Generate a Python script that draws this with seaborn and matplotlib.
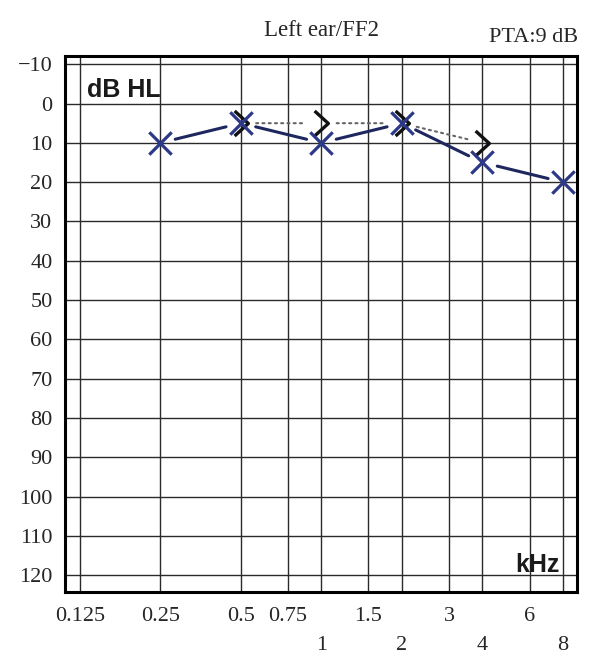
import matplotlib
matplotlib.use("Agg")
import matplotlib.pyplot as plt
import seaborn as sns
import pandas as pd
from matplotlib.path import Path

# ---- data ----
air_freqs = [0.25, 0.5, 1, 2, 4, 8]
air_db = [10, 5, 10, 5, 15, 20]
bone_freqs = [0.5, 1, 2, 4]
bone_db = [5, 5, 5, 10]

row1_ticks = [0.125, 0.25, 0.5, 0.75, 1.5, 3, 6]
row1_labels = ["0.125", "0.25", "0.5", "0.75", "1.5", "3", "6"]
row2_ticks = [1, 2, 4, 8]
row2_labels = ["1", "2", "4", "8"]
y_ticks = list(range(-10, 121, 10))

title = "Left ear/FF2"
pta = "PTA:9 dB"

sns.set_style("white")
plt.rcParams["font.family"] = ["Liberation Serif", "DejaVu Serif"]

navy = "#2c3888"
navy_line = "#1e275e"

fig = plt.figure(figsize=(6.0, 6.72), dpi=100)
ax = fig.add_axes([65 / 600, 1 - 592 / 672, 512 / 600, 536 / 672])

ax.set_xscale("log", base=2)
ax.set_xlim(0.110, 9.03)
ax.set_ylim(124.3, -12.1)

ax.set_xticks(row1_ticks, labels=row1_labels)
ax.set_xticks(row2_ticks, labels=row2_labels, minor=True)
ax.set_yticks(y_ticks)
ax.tick_params(axis="x", which="major", length=0, pad=11, labelsize=16)
ax.tick_params(axis="x", which="minor", length=0, pad=32, labelsize=16)
ax.tick_params(axis="y", length=0, pad=9, labelsize=16)

ax.grid(True, which="both", color="#2a2a2a", lw=1.0)
ax.set_axisbelow(True)
for s in ax.spines.values():
    s.set_visible(True)
    s.set_color("black")
    s.set_linewidth(2.2)

air = pd.DataFrame({"f": air_freqs, "db": air_db})
bone = pd.DataFrame({"f": bone_freqs, "db": bone_db})

# connectors with gaps at markers
for i in range(len(air_freqs) - 1):
    ax.annotate("", xy=(air_freqs[i + 1], air_db[i + 1]), xytext=(air_freqs[i], air_db[i]),
                arrowprops=dict(arrowstyle="-", color=navy_line, lw=2.2,
                                shrinkA=11, shrinkB=11), zorder=3)
for i in range(len(bone_freqs) - 1):
    ax.annotate("", xy=(bone_freqs[i + 1], bone_db[i + 1]), xytext=(bone_freqs[i], bone_db[i]),
                arrowprops=dict(arrowstyle="-", color="#666666", lw=1.5, linestyle=(0, (1, 2.0)),
                                shrinkA=11, shrinkB=11), zorder=3)

# chevron markers (bone)
chevron = Path([(-0.55, 1.0), (0.55, 0.0), (-0.55, -1.0)], [Path.MOVETO, Path.LINETO, Path.LINETO])
sns.lineplot(data=bone, x="f", y="db", ax=ax, linestyle="none", marker=chevron,
             markersize=18, markerfacecolor="none", markeredgecolor="#111111",
             markeredgewidth=2.4, color="#111111", zorder=4)

# X markers (air)
sns.scatterplot(data=air, x="f", y="db", ax=ax, marker="x", s=260, color=navy,
                linewidth=2.3, zorder=5, clip_on=True)

ax.set_xlabel("")
ax.set_ylabel("")

ax.text(0.043, 0.937, "dB HL", transform=ax.transAxes, ha="left", va="center",
        fontsize=18, fontweight="bold", family=["Liberation Sans", "DejaVu Sans"], color="#1a1a1a")
ax.text(0.967, 0.05, "kHz", transform=ax.transAxes, ha="right", va="center",
        fontsize=18, fontweight="bold", family=["Liberation Sans", "DejaVu Sans"], color="#1a1a1a")

fig.text(321 / 600, 1 - 31 / 672, title, ha="center", va="center", fontsize=16.5)
fig.text(578 / 600, 1 - 37 / 672, pta, ha="right", va="center", fontsize=16)

fig.savefig("out.png", dpi=100)
